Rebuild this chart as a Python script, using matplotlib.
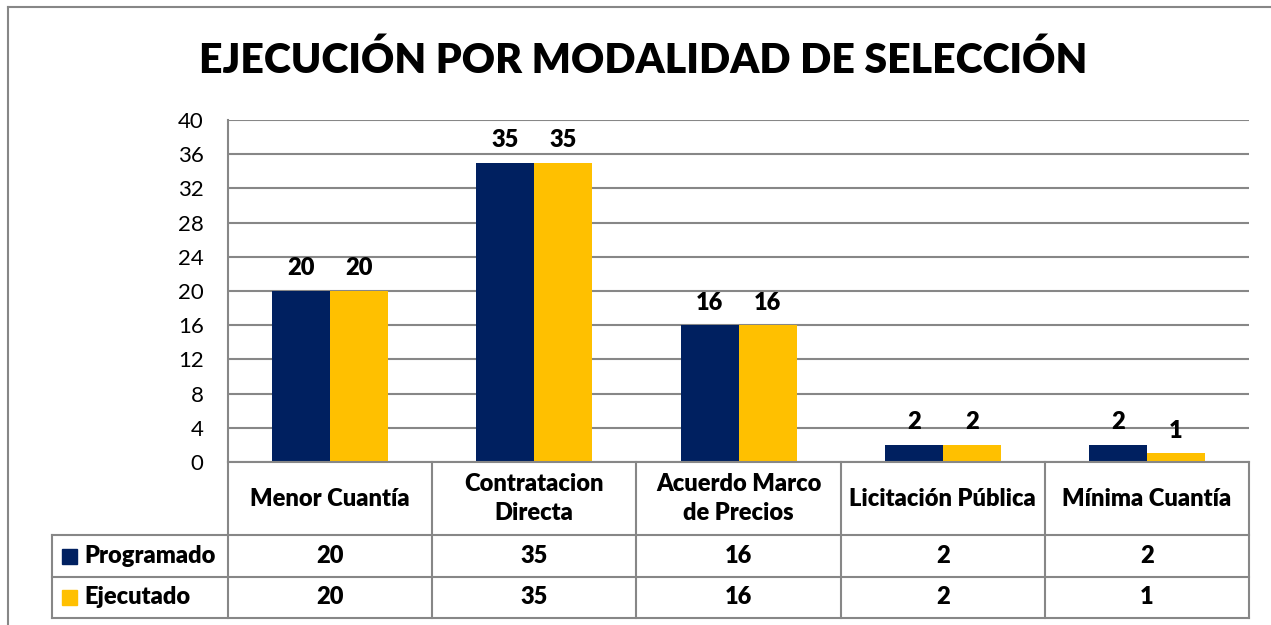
import matplotlib
matplotlib.use("Agg")
import matplotlib.pyplot as plt
from matplotlib.patches import Rectangle
from matplotlib.lines import Line2D

plt.rcParams['font.family'] = ['Lato', 'DejaVu Sans']

title = "EJECUCIÓN POR MODALIDAD DE SELECCIÓN"
categories = ["Menor Cuantía", "Contratacion\nDirecta", "Acuerdo Marco\nde Precios",
              "Licitación Pública", "Mínima Cuantía"]
series_names = ["Programado", "Ejecutado"]
programado = [20, 35, 16, 2, 2]
ejecutado = [20, 35, 16, 2, 1]
yticks = [0, 4, 8, 12, 16, 20, 24, 28, 32, 36, 40]
colors = ["#002060", "#FFC000"]
grid_c = "#878787"

W, H = 1271, 625
fig = plt.figure(figsize=(W / 100, H / 100), dpi=100)

def fx(x):
    return x / W

def fy(y):
    return 1 - y / H

BW = 'heavy'
FS = 17

# outer frame
fig.add_artist(Line2D([fx(8), fx(8)], [fy(7), fy(625)], color=grid_c, lw=1.5))
fig.add_artist(Line2D([fx(8), fx(1271)], [fy(7), fy(7)], color=grid_c, lw=1.5))

fig.text(fx(643), fy(60), title, ha='center', va='center', fontsize=29.5, fontweight=BW)

L, R, T, B = 228, 1249, 120, 462
ax = fig.add_axes([fx(L), fy(B), fx(R - L), (B - T) / H])
n = len(categories)
w = 58 / ((R - L) / n)
xs = list(range(n))
series = [programado, ejecutado]
for k, vals in enumerate(series):
    offs = (k - 0.5) * w
    ax.bar([x + offs for x in xs], vals, width=w, color=colors[k], zorder=3)
    for x, v in zip(xs, vals):
        ax.text(x + offs, v + 1.35, f"{v}", ha='center', va='bottom', fontsize=FS,
                fontweight=BW, zorder=4)
ax.set_xlim(-0.5, n - 0.5)
ax.set_ylim(0, 40)
ax.set_yticks(yticks)
ax.set_yticklabels([str(t) for t in yticks], fontsize=16)
ax.tick_params(axis='y', length=0, pad=17.5)
ax.set_xticks([])
for t in yticks:
    ax.axhline(t, color=grid_c, lw=1.5, zorder=1)
for s in ['top', 'right', 'bottom']:
    ax.spines[s].set_visible(False)
ax.spines['left'].set_color(grid_c)
ax.spines['left'].set_linewidth(1.5)
ax.patch.set_alpha(0)

# data table
tax = fig.add_axes([0, 0, 1, 1])
tax.set_xlim(0, W)
tax.set_ylim(H, 0)
tax.axis('off')
tax.patch.set_alpha(0)
colw = (R - L) / n
bounds = [L + i * colw for i in range(n + 1)]
rows_y = [462, 535, 577, 618]
LL = 52
lk = dict(color=grid_c, lw=1.5)
tax.plot([L, R], [rows_y[0], rows_y[0]], **lk)
for yy in rows_y[1:]:
    tax.plot([LL, R], [yy, yy], **lk)
for bx in bounds:
    tax.plot([bx, bx], [rows_y[0], rows_y[-1]], **lk)
tax.plot([LL, LL], [rows_y[1], rows_y[-1]], **lk)

for i, c in enumerate(categories):
    cx = (bounds[i] + bounds[i + 1]) / 2
    tax.text(cx, (rows_y[0] + rows_y[1]) / 2, c, ha='center', va='center', fontsize=FS,
             fontweight=BW, linespacing=1.4)
    for r, vals in enumerate(series):
        cy = (rows_y[r + 1] + rows_y[r + 2]) / 2
        tax.text(cx, cy, f"{vals[i]}", ha='center', va='center', fontsize=FS, fontweight=BW)

for r, name in enumerate(series_names):
    cy = (rows_y[r + 1] + rows_y[r + 2]) / 2
    tax.add_patch(Rectangle((62, cy - 7.5), 15, 15, color=colors[r]))
    tax.text(84, cy, name, ha='left', va='center', fontsize=FS, fontweight=BW)

fig.savefig("out.png", dpi=100)
